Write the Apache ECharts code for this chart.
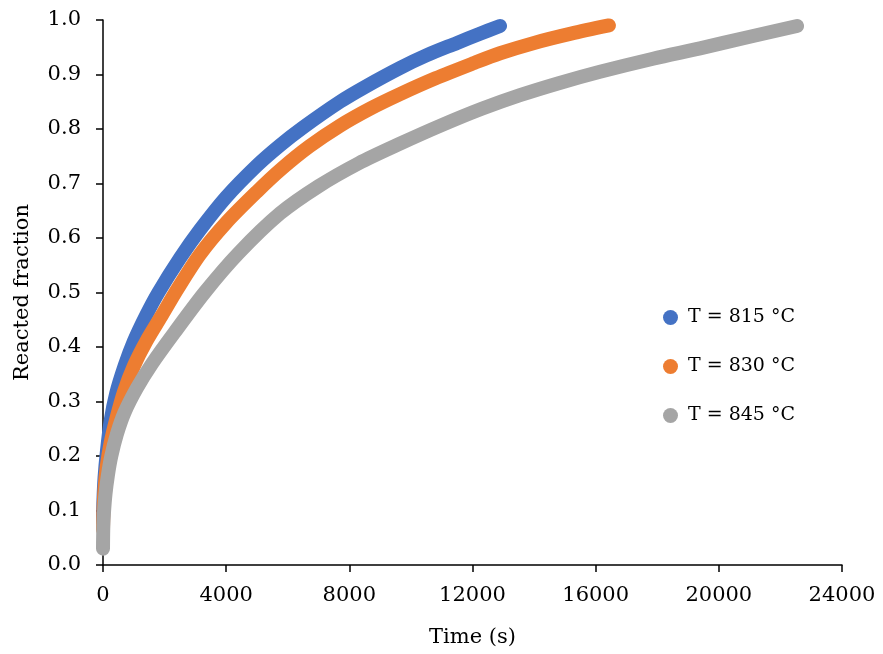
<!DOCTYPE html>
<html>
<head>
<meta charset="utf-8">
<script src="https://cdn.jsdelivr.net/npm/echarts@6/dist/echarts.min.js"></script>
<style>html,body{margin:0;padding:0;background:#fff}#c{width:883px;height:654px}</style>
</head>
<body>
<div id="c"></div>
<script>
// Time (s) and reacted fraction
var t815 = [0, 15, 50, 120, 250, 430, 700, 1000, 1400, 1800, 2500, 3150, 4000, 5000, 5748, 6500, 7697, 8500, 9645, 10500, 11500, 12200, 12893];
var f815 = [0.08, 0.12, 0.16, 0.205, 0.265, 0.315, 0.365, 0.41, 0.458, 0.50, 0.563, 0.615, 0.675, 0.733, 0.77, 0.803, 0.85, 0.877, 0.912, 0.935, 0.958, 0.974, 0.989];

var t830 = [0, 15, 50, 120, 250, 450, 682, 1000, 1400, 1900, 2403, 3150, 4000, 5000, 5800, 6700, 7697, 8700, 9645, 10800, 12000, 12893, 14000, 15200, 16430];
var f830 = [0.065, 0.10, 0.14, 0.18, 0.225, 0.272, 0.318, 0.365, 0.41, 0.457, 0.505, 0.57, 0.628, 0.685, 0.727, 0.768, 0.806, 0.838, 0.864, 0.893, 0.92, 0.939, 0.958, 0.975, 0.99];

var t845 = [0, 10, 30, 80, 160, 270, 450, 700, 1104, 1600, 2300, 3300, 4400, 5748, 7000, 8300, 9645, 11000, 12300, 13542, 14800, 16140, 17862, 19388, 20900, 22540];
var f845 = [0.03, 0.07, 0.095, 0.13, 0.165, 0.20, 0.24, 0.28, 0.325, 0.37, 0.425, 0.50, 0.572, 0.645, 0.695, 0.737, 0.773, 0.807, 0.837, 0.862, 0.884, 0.905, 0.929, 0.948, 0.968, 0.989];

var seriesNames = ['T = 815 °C', 'T = 830 °C', 'T = 845 °C'];
var seriesColors = ['#4472C4', '#ED7D31', '#A5A5A5'];

function pairs(t, f) { return t.map(function (v, i) { return [v, f[i]]; }); }
var allData = [pairs(t815, f815), pairs(t830, f830), pairs(t845, f845)];

var FONT = 'DejaVu Serif';
var chart = echarts.init(document.getElementById('c'), null, { renderer: 'canvas' });
chart.setOption({
  animation: false,
  backgroundColor: '#fff',
  grid: { left: 103, right: 41, top: 20, bottom: 89, containLabel: false, outerBoundsMode: 'none' },
  legend: {
    orient: 'vertical',
    left: 663,
    top: 308,
    padding: 0,
    itemWidth: 15,
    itemHeight: 15,
    itemGap: 30,
    icon: 'circle',
    data: seriesNames,
    textStyle: { fontFamily: FONT, fontSize: 19, color: '#000', padding: [0, 0, 0, 5] }
  },
  xAxis: {
    type: 'value',
    min: 0, max: 24000, interval: 4000,
    name: 'Time (s)',
    nameLocation: 'middle',
    nameGap: 62,
    nameTextStyle: { fontFamily: FONT, fontSize: 21, color: '#000' },
    axisLine: { show: true, lineStyle: { color: '#000', width: 1.5 } },
    axisTick: { show: true, inside: false, length: 7, lineStyle: { color: '#000', width: 1.5 } },
    axisLabel: { fontFamily: FONT, fontSize: 21, color: '#000', margin: 20,
      formatter: function (v) { return String(v); } },
    splitLine: { show: false }
  },
  yAxis: {
    type: 'value',
    min: 0, max: 1, interval: 0.1,
    name: 'Reacted fraction',
    nameLocation: 'middle',
    nameGap: 70,
    nameTextStyle: { fontFamily: FONT, fontSize: 21, color: '#000' },
    axisLine: { show: true, lineStyle: { color: '#000', width: 1.5 } },
    axisTick: { show: true, inside: false, length: 7, lineStyle: { color: '#000', width: 1.5 } },
    axisLabel: { fontFamily: FONT, fontSize: 21, color: '#000', margin: 22,
      formatter: function (v) { return v.toFixed(1); } },
    splitLine: { show: false }
  },
  series: allData.map(function (d, i) {
    return {
      name: seriesNames[i],
      type: 'line',
      data: d,
      showSymbol: false,
      symbol: 'circle',
      smooth: 0.3,
      color: seriesColors[i],
      itemStyle: { color: seriesColors[i] },
      lineStyle: { color: seriesColors[i], width: 14, cap: 'round', join: 'round' },
      clip: false,
      z: 2 + i
    };
  })
});
</script>
</body>
</html>
